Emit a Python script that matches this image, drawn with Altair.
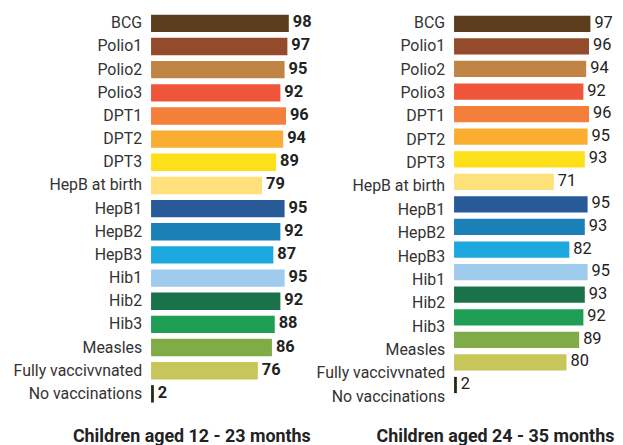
import altair as alt
import pandas as pd

categories = ["BCG", "Polio1", "Polio2", "Polio3", "DPT1", "DPT2", "DPT3",
              "HepB at birth", "HepB1", "HepB2", "HepB3", "Hib1", "Hib2", "Hib3",
              "Measles", "Fully vaccivvnated", "No vaccinations"]
values_12_23 = [98, 97, 95, 92, 96, 94, 89, 79, 95, 92, 87, 95, 92, 88, 86, 76, 2]
values_24_35 = [97, 96, 94, 92, 96, 95, 93, 71, 95, 93, 82, 95, 93, 92, 89, 80, 2]
colors = ["#5C3D1E", "#934B2C", "#C08545", "#EF553A", "#F37F3A", "#F9AE31",
          "#FDE01A", "#FEE17A", "#275A96", "#1A80B6", "#1CA7DE", "#9FCBEC",
          "#1A724A", "#1F9D55", "#80AC48", "#C8C65B", "#1F2D18"]
titles = ["Children aged 12 - 23 months", "Children aged 24 - 35 months"]

FONT = "Roboto"
H = 400


def panel(vals, title, bar_range, bar_pad, label_range, xmax, width,
          value_weight, title_dx):
    df = pd.DataFrame({"cat": categories, "v": vals})
    base = alt.Chart(df)
    ybar = alt.Y("cat:N", sort=categories, axis=None,
                 scale=alt.Scale(range=bar_range, paddingInner=bar_pad,
                                 paddingOuter=bar_pad / 2))
    xq = alt.X("v:Q", axis=None, scale=alt.Scale(domain=[0, xmax]))
    bars = base.mark_bar().encode(
        y=ybar, x=xq,
        color=alt.Color("cat:N", scale=alt.Scale(domain=categories, range=colors),
                        legend=None))
    vtext = base.mark_text(align="left", baseline="middle", dx=4, dy=-1,
                           font=FONT, fontSize=16.5, fontWeight=value_weight,
                           color="#222222").encode(y=ybar, x=xq, text="v:Q")
    labels = base.mark_text(align="right", baseline="middle", dx=-9,
                            font=FONT, fontSize=16, color="#333333").encode(
        y=alt.Y("cat:N", sort=categories, axis=None,
                scale=alt.Scale(range=label_range, paddingInner=0.2,
                                paddingOuter=0.1)),
        x=alt.value(0), text="cat:N")
    return alt.layer(labels, bars, vtext).resolve_scale(y="independent").properties(
        width=width, height=H,
        title=alt.TitleParams(title, orient="bottom", anchor="middle",
                              frame="bounds", dx=title_dx, offset=19,
                              font=FONT, fontSize=18, fontWeight="bold",
                              color="#222222"))


left = panel(values_12_23, titles[0], [0.35, 396.6], 0.25, [0.35, 396.6],
             115, 162.7, "bold", 29)
right = panel(values_24_35, titles[1], [1.1, 387.4], 0.28, [0, 399.5],
              100, 141.5, "normal", 31)

chart = alt.hconcat(left, right, spacing=3).properties(
    padding={"left": 5, "top": 2, "right": 0, "bottom": 0}
).configure_view(stroke=None)

chart.save("out.html", embed_options={"renderer": "svg", "actions": False})
